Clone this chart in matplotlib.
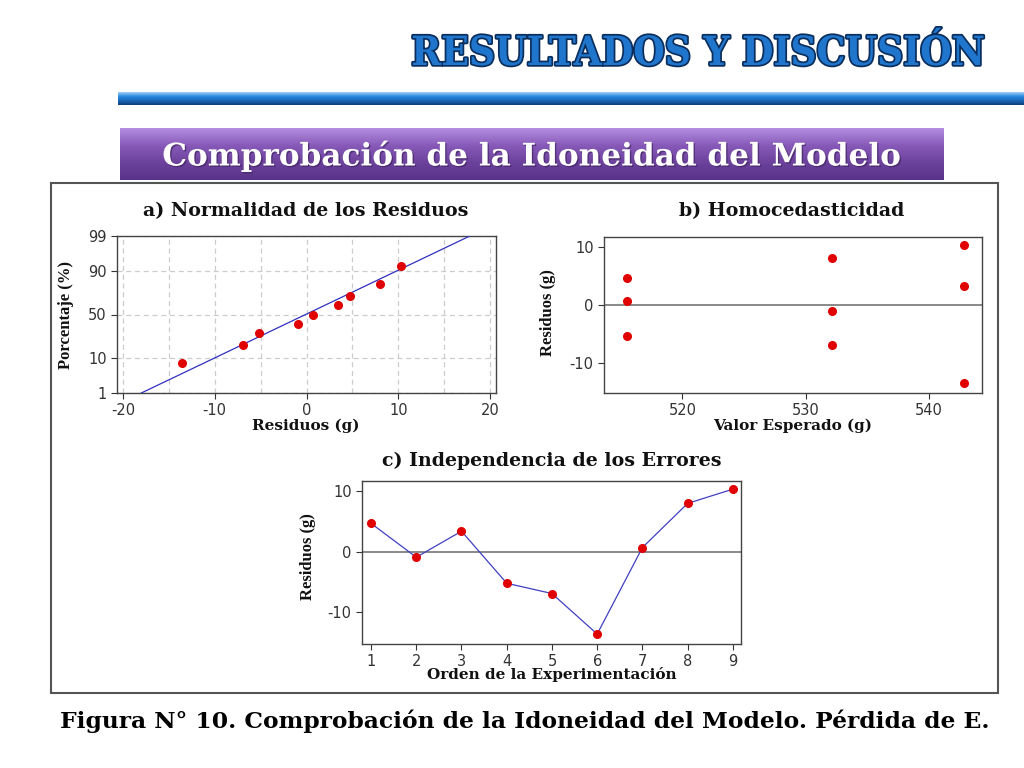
import numpy as np
import matplotlib
matplotlib.use("Agg")
import matplotlib.pyplot as plt
from matplotlib.colors import LinearSegmentedColormap
from matplotlib.patches import Rectangle, FancyBboxPatch
import matplotlib.patheffects as pe
from statistics import NormalDist

plt.rcParams["axes.unicode_minus"] = False

# ---------------- data ----------------
orden = [1, 2, 3, 4, 5, 6, 7, 8, 9]
residuos_orden = [4.7, -0.9, 3.4, -5.2, -6.9, -13.6, 0.7, 8.0, 10.35]

valor_esperado = [515.5, 515.5, 515.5, 532.1, 532.1, 532.1, 542.8, 542.8, 542.8]
residuos_esp = [4.6, 0.6, -5.3, 8.0, -1.1, -6.9, 10.3, 3.3, -13.5]

residuos_ord = [-13.6, -6.9, -5.2, -0.9, 0.7, 3.4, 4.7, 8.0, 10.35]
porcentaje = [7.4, 18.1, 28.7, 39.4, 50.0, 60.6, 71.3, 81.9, 92.6]
ajuste_x = [-18.0, 17.8]
ajuste_p = [1.0, 99.0]

prob_ticks = [1, 10, 50, 90, 99]
xa_ticks = [-20, -10, 0, 10, 20]
xb_ticks = [520, 530, 540]
y_ticks = [-10, 0, 10]

W, H = 1024, 768
fig = plt.figure(figsize=(W / 100, H / 100), dpi=100)
fig.patch.set_facecolor("white")


def fx(px):
    return px / W


def fy(py):
    return 1 - py / H


def box(l, t, r, b):
    return [fx(l), fy(b), (r - l) / W, (b - t) / H]


# ---------------- decorations ----------------
fig.text(fx(698), fy(54), "RESULTADOS Y DISCUSIÓN", ha="center", va="center",
         fontsize=29, fontweight="bold", family="DejaVu Serif", fontstretch="condensed",
         color="#2075cc",
         path_effects=[pe.Stroke(linewidth=2.5, foreground="#0b2e5c"), pe.Normal()])

bar_ax = fig.add_axes(box(118, 92, 1024, 105))
bar_cmap = LinearSegmentedColormap.from_list("bar", ["#9fd0f7", "#2b8ae0", "#1867b8", "#0c3f78"])
bar_ax.imshow(np.linspace(0, 1, 50).reshape(-1, 1), aspect="auto", cmap=bar_cmap,
              extent=[0, 1, 0, 1])
bar_ax.axis("off")

pur_ax = fig.add_axes(box(120, 128, 944, 180))
pur_cmap = LinearSegmentedColormap.from_list("pur", ["#b48ee0", "#8759b8", "#6c429c", "#5a3388"])
pur_ax.imshow(np.linspace(0, 1, 50).reshape(-1, 1), aspect="auto", cmap=pur_cmap,
              extent=[0, 1, 0, 1])
pur_ax.axis("off")
fig.text(fx(532), fy(156), "Comprobación de la Idoneidad del Modelo", ha="center",
         va="center", fontsize=22.4, fontweight="bold", family="DejaVu Serif",
         color="white",
         path_effects=[pe.withSimplePatchShadow(offset=(1, -1), shadow_rgbFace="#3a1f5a", alpha=0.6)])

frame = Rectangle((fx(51), fy(693)), (998 - 51) / W, (693 - 183) / H,
                  transform=fig.transFigure, fill=False, edgecolor="#555555", linewidth=1.5)
fig.patches.append(frame)

fig.text(fx(525), fy(721), "Figura N° 10. Comprobación de la Idoneidad del Modelo. Pérdida de E.",
         ha="center", va="center", fontsize=16.8, fontweight="bold",
         family="DejaVu Serif", color="black")

# ---------------- common styling ----------------
tick_kw = dict(labelsize=10.5, colors="#333333", direction="out", length=4, width=0.8)
title_kw = dict(ha="center", va="center", fontsize=13.7, fontweight="bold",
                family="DejaVu Serif", color="#111111")
xlab_kw = dict(ha="center", va="center", fontsize=11, fontweight="bold",
               family="DejaVu Serif", color="#111111")
ylab_kw = dict(ha="center", va="center", fontsize=12, fontweight="bold",
               family="Liberation Serif", color="#111111", rotation=90)
red = "#e00000"


def style(ax):
    for s in ax.spines.values():
        s.set_color("#444444")
        s.set_linewidth(1.0)
    ax.tick_params(**tick_kw)
    for lab in ax.get_xticklabels() + ax.get_yticklabels():
        lab.set_family("DejaVu Sans")


# ---------------- panel a ----------------
_nd = NormalDist()


def _fwd(p):
    p = np.clip(np.asarray(p, dtype=float), 1e-4, 100 - 1e-4)
    return np.vectorize(lambda v: _nd.inv_cdf(v / 100.0), otypes=[float])(p)


def _inv(z):
    z = np.asarray(z, dtype=float)
    return np.vectorize(lambda v: _nd.cdf(v) * 100.0, otypes=[float])(z)


axa = fig.add_axes(box(117, 236, 496, 393))
axa.set_yscale("function", functions=(_fwd, _inv))
axa.plot(ajuste_x, ajuste_p, color="#3030c0", linewidth=0.9, zorder=3)
axa.plot(residuos_ord, porcentaje, "o", color=red, markersize=5.5, zorder=4)
axa.set_xlim(-20.65, 20.65)
axa.set_ylim(1, 99)
axa.set_xticks(xa_ticks)
axa.set_xticks(np.arange(-15, 20, 10), minor=True)
axa.set_yticks(prob_ticks)
axa.set_yticklabels([str(t) for t in prob_ticks])
axa.yaxis.set_minor_locator(matplotlib.ticker.NullLocator())
axa.grid(True, which="both", axis="x", linestyle=(0, (4, 3)), color="#cccccc", linewidth=0.9)
axa.grid(True, which="major", axis="y", linestyle=(0, (4, 3)), color="#cccccc", linewidth=0.9)
axa.tick_params(which="minor", length=0)
axa.set_axisbelow(True)
style(axa)
fig.text(fx(306), fy(211), "a) Normalidad de los Residuos", **title_kw)
fig.text(fx(306), fy(426), "Residuos (g)", **xlab_kw)
fig.text(fx(66), fy(315), "Porcentaje (%)", **ylab_kw)

# ---------------- panel b ----------------
axb = fig.add_axes(box(604, 237, 982, 393))
axb.axhline(0, color="#808080", linewidth=1.3, zorder=2)
axb.plot(valor_esperado, residuos_esp, "o", color=red, markersize=5.5, zorder=4)
axb.set_xlim(513.65, 544.3)
axb.set_ylim(-15.2, 11.7)
axb.set_xticks(xb_ticks)
axb.set_yticks(y_ticks)
style(axb)
fig.text(fx(792), fy(211), "b) Homocedasticidad", **title_kw)
fig.text(fx(793), fy(426), "Valor Esperado (g)", **xlab_kw)
fig.text(fx(548), fy(313), "Residuos (g)", **ylab_kw)

# ---------------- panel c ----------------
axc = fig.add_axes(box(362, 481, 741, 644))
axc.axhline(0, color="#808080", linewidth=1.3, zorder=2)
axc.plot(orden, residuos_orden, "-", color="#4040c0", linewidth=0.9, zorder=3)
axc.plot(orden, residuos_orden, "o", color=red, markersize=5.5, zorder=4)
axc.set_xlim(0.8, 9.18)
axc.set_ylim(-15.24, 11.7)
axc.set_xticks(orden)
axc.set_yticks(y_ticks)
style(axc)
fig.text(fx(552), fy(461), "c) Independencia de los Errores", **title_kw)
fig.text(fx(552), fy(675), "Orden de la Experimentación", **xlab_kw)
fig.text(fx(308), fy(557), "Residuos (g)", **ylab_kw)

fig.savefig("out.png", dpi=100, facecolor="white")
